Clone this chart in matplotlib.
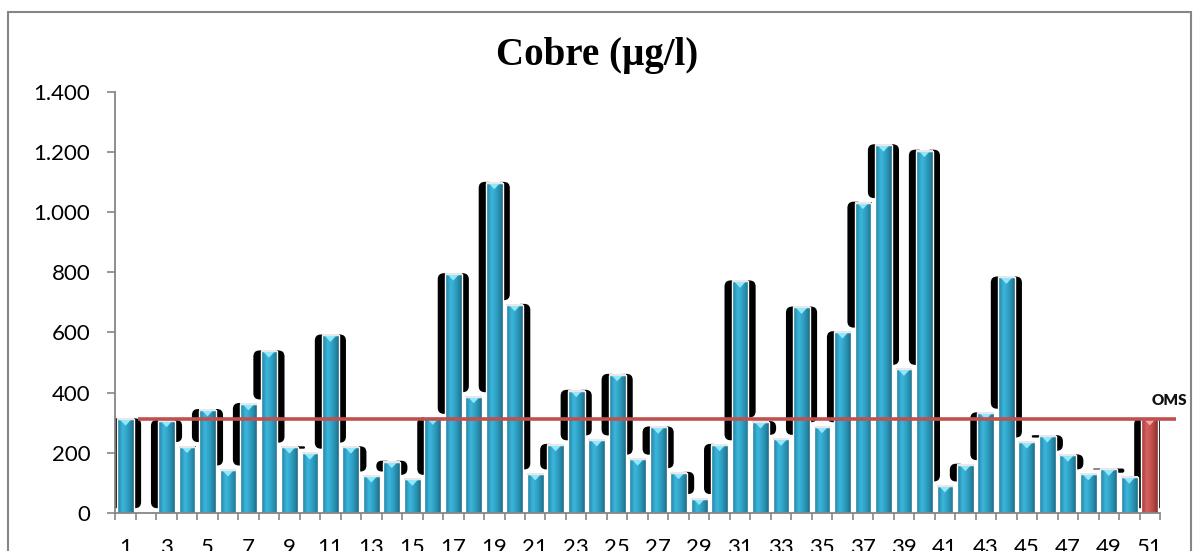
import numpy as np
import matplotlib
matplotlib.use("Agg")
import matplotlib.pyplot as plt
from matplotlib.colors import LinearSegmentedColormap
from matplotlib.patches import FancyBboxPatch, Rectangle, Polygon

# ---------------- data ----------------
categories = list(range(1, 52))
cobre = [311, 0, 306, 220, 342, 142, 362, 537, 218, 198,
         590, 218, 122, 170, 111, 314, 794, 386, 1098, 692,
         129, 226, 406, 242, 459, 178, 284, 133, 47, 226,
         770, 302, 244, 683, 286, 601, 1032, 1223, 477, 1205,
         89, 160, 331, 783, 235, 255, 191, 129, 144, 118, 0]
oms_bar = [0] * 50 + [312]
oms_level = 311
oms_label = "OMS"
title = "Cobre (µg/l)"
yticks = [0, 200, 400, 600, 800, 1000, 1200, 1400]
xlabels = [str(c) if c % 2 == 1 else "" for c in categories]

W, H = 1194, 551
fig = plt.figure(figsize=(W / 100, H / 100), dpi=100)
ax = fig.add_axes([115.3 / W, (H - 512.7) / H, 1044.7 / W, 420.7 / H])
ax.set_xlim(0.5, 51.5)
ax.set_ylim(0, 1400)

px_x = 1044.7 / 51.0       # pixels per x unit
px_y = 420.7 / 1400.0      # pixels per y unit
aspect = px_x / px_y

blue_cmap = LinearSegmentedColormap.from_list(
    "b", [(0, "#1b6d8a"), (0.12, "#2a93b6"), (0.35, "#3cb6db"),
          (0.6, "#2fa2c5"), (0.88, "#24809f"), (1, "#1a6580")])
red_cmap = LinearSegmentedColormap.from_list(
    "r", [(0, "#8a2c2a"), (0.12, "#b44744"), (0.35, "#d46361"),
          (0.6, "#c4524f"), (0.88, "#9f3b39"), (1, "#862b29")])
grad = np.linspace(0, 1, 64).reshape(1, -1)

bw = 0.82
sh = 0.76
gap_units = 15


def rounded(x0, y0, w, h, z):
    if h <= 0:
        return
    r = min(0.3, h / aspect / 2.0, w / 2.0)
    p = FancyBboxPatch((x0, y0), w, h,
                       boxstyle=f"round,pad=0,rounding_size={r}",
                       mutation_aspect=aspect, fc="black", ec="none", zorder=z)
    ax.add_patch(p)


def draw_series(vals, cmap, tri_color):
    n = len(vals)
    # shadows
    for i, v in enumerate(vals):
        if v <= 0:
            continue
        c = categories[i]
        left_n = vals[i - 1] if i > 0 else 0
        right_n = vals[i + 1] if i < n - 1 else 0
        top = v + 3
        bl = left_n + gap_units
        br = right_n + gap_units
        rounded(c - sh, bl, sh, top - bl, 1)
        rounded(c, br, sh, top - br, 1)
    # bars
    for i, v in enumerate(vals):
        if v <= 0:
            continue
        c = categories[i]
        ax.imshow(grad, extent=[c - bw / 2, c + bw / 2, 0, v], aspect="auto",
                  cmap=cmap, zorder=2, interpolation="bilinear")
        ax.add_patch(Rectangle((c - bw / 2, 0), bw, v, fc="none",
                               ec="white", lw=1.0, zorder=2.1))
        th = 6.5 / px_y
        tw = 0.27
        ax.add_patch(Polygon([(c - tw, v - 1.5), (c + tw, v - 1.5), (c, v - th)],
                             closed=True, fc=tri_color, ec="none", zorder=2.2))
        ax.plot([c - bw / 2, c + bw / 2], [v, v], color="#e8e8e8", lw=1.5,
                zorder=2.3, solid_capstyle="butt")


draw_series(cobre, blue_cmap, "#8fe8fb")
draw_series(oms_bar, red_cmap, "#f4a9a7")

ax.set_xlim(0.5, 51.5)
ax.set_ylim(0, 1400)

# OMS reference line
ax.plot([1.6, 52.3], [oms_level, oms_level], color="#c0504d", lw=2.6,
        zorder=4, clip_on=False, solid_capstyle="butt")
ax.text(51.95, oms_level + 62, oms_label, ha="center", va="center",
        fontsize=11, fontweight="heavy", family=["Lato", "DejaVu Sans"],
        color="#111111", zorder=5, clip_on=False)

# axes style
for s in ["top", "right"]:
    ax.spines[s].set_visible(False)
for s in ["left", "bottom"]:
    ax.spines[s].set_color("#868686")
    ax.spines[s].set_linewidth(1.3)
    ax.spines[s].set_zorder(3)

ax.set_yticks(yticks)
ax.set_yticklabels([f"{t:,}".replace(",", ".") for t in yticks],
                   family=["Lato", "DejaVu Sans"], fontsize=16)
ax.tick_params(axis="y", length=6, width=1.2, color="#868686", pad=12,
               direction="out")

ax.set_xticks(categories)
ax.set_xticklabels(xlabels, family=["Lato", "DejaVu Sans"], fontsize=16)
ax.set_xticks(np.arange(0.5, 52.0, 1.0), minor=True)
ax.tick_params(axis="x", which="major", length=0, pad=18)
ax.tick_params(axis="x", which="minor", length=5, width=1.2, color="#868686")

fig.text(597 / W, 1 - 56 / H, title, ha="center", va="center",
         fontsize=28, fontweight="bold",
         family=["Liberation Serif", "DejaVu Serif"])

# outer chart frame
fig.patches.append(Rectangle((8 / W, -0.1), (1191 - 8) / W, 1.1 - 12 / H,
                             transform=fig.transFigure, fill=False,
                             ec="#868686", lw=1.5, zorder=0))

fig.savefig("out.png", dpi=100)
